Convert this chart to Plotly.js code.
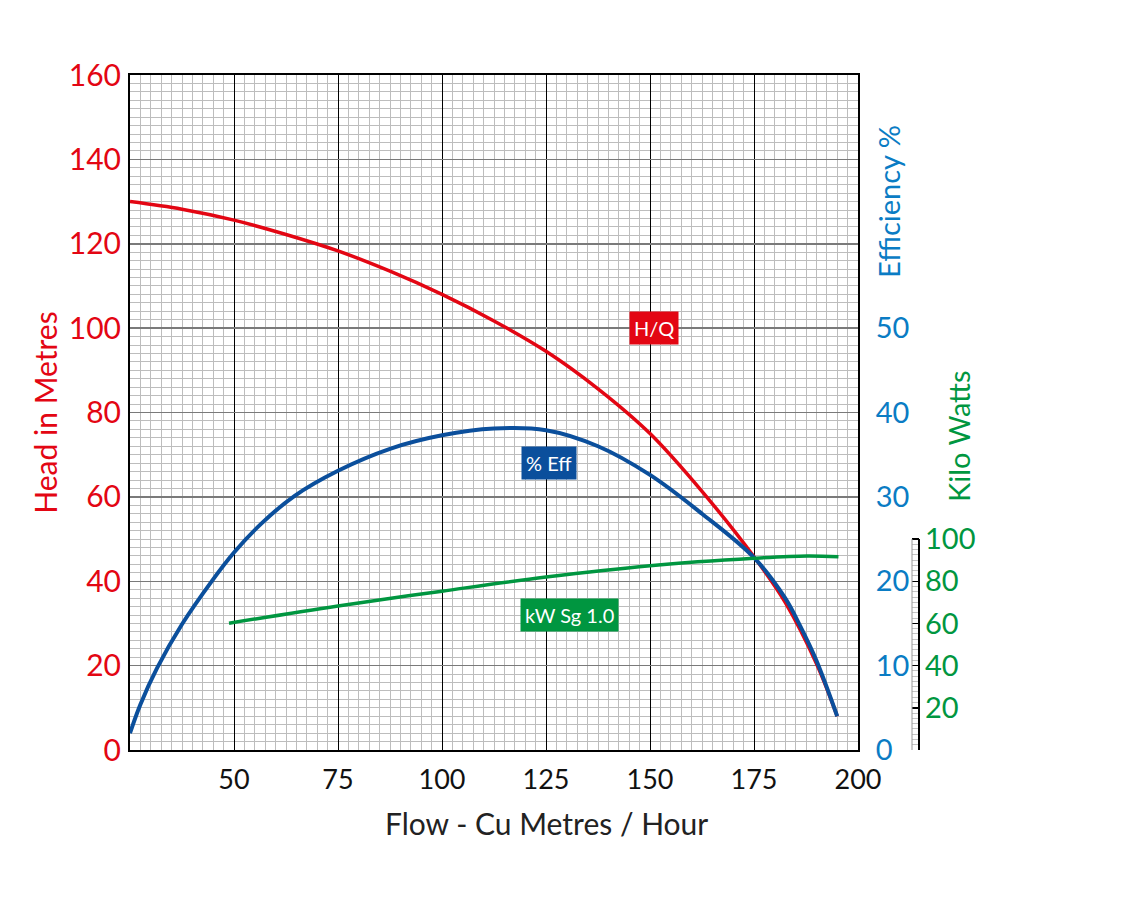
<!DOCTYPE html>
<html>
<head>
<meta charset="utf-8">
<script src="https://cdn.plot.ly/plotly-3.0.1.min.js"></script>
<style>
  html, body {margin:0; padding:0; background:#fff;}
  #chart {width:1136px; height:904px;}
</style>
</head>
<body>
<div id="chart"></div>
<script>
// flow in cu metres / hour
const headFlow = [25, 37.5, 50, 62.5, 75, 87.5, 100, 112.5, 125, 137.5, 150, 162.5, 175, 182.5, 190, 195];
const headVals = [130, 128.2, 125.6, 122.2, 118.3, 113.5, 108, 101.7, 94.5, 85.6, 75.0, 61.3, 45.8, 35, 20.5, 8];

const effFlow = [25, 27.5, 31.5, 37.5, 44.5, 50, 56.5, 64.5, 75, 87.5, 100, 112.5, 125, 137.5, 150, 162.5, 175, 182.5, 186, 190, 195];
const effVals = [2.0, 5.4, 9.7, 14.9, 19.9, 23.4, 26.8, 30.1, 33.1, 35.7, 37.3, 38.1, 37.9, 36.0, 32.6, 28.0, 22.8, 18.0, 14.8, 10.6, 4.0];

const kwFlow = [48.8, 75, 100, 125, 150, 175, 187.8, 195.3];
const kwVals = [60.1, 68.3, 75.3, 82.0, 87.4, 90.9, 92.0, 91.6];

const flowTicks = [50, 75, 100, 125, 150, 175, 200];
const headTicks = [0, 20, 40, 60, 80, 100, 120, 140, 160];
const effTicks = [0, 10, 20, 30, 40, 50];
const kwTicks = [0, 20, 40, 60, 80, 100];

const RED = "#e30613", BLUE = "#0b4f9c", LBLUE = "#0a7cc4", GREEN = "#009640";
const FONT = "Lato, 'Open Sans', sans-serif";

const plotW = 728, paperW = 906;   // plot area vs paper width (px)
const xEnd = plotW / paperW;

const kwMinor = [];
for (let v = 0; v <= 100; v += 2.5) kwMinor.push(v);

const traces = [
  {x: headFlow, y: headVals, yaxis: "y", mode: "lines", name: "H/Q",
   line: {color: RED, width: 3.5, shape: "spline", smoothing: 1}},
  {x: effFlow, y: effVals, yaxis: "y2", mode: "lines", name: "% Eff",
   line: {color: BLUE, width: 4, shape: "spline", smoothing: 1}},
  {x: kwFlow, y: kwVals, yaxis: "y3", mode: "lines", name: "kW Sg 1.0",
   line: {color: GREEN, width: 3.5, shape: "spline", smoothing: 1}}
];

function tag(text, x, y, yref, bg) {
  return {text: text, x: x, y: y, xref: "x", yref: yref, showarrow: false,
          font: {family: FONT, size: 20, color: "#fff"},
          bgcolor: bg, borderpad: 4};
}

const layout = {
  width: 1136, height: 904,
  margin: {l: 130, r: 1136 - 130 - paperW, t: 75, b: 154},
  paper_bgcolor: "#fff", plot_bgcolor: "#fff",
  showlegend: false,
  font: {family: FONT},
  xaxis: {
    domain: [0, xEnd], range: [25, 200],
    tickmode: "array", tickvals: flowTicks,
    ticks: "outside", ticklen: 5, tickcolor: "rgba(0,0,0,0)",
    tickfont: {size: 27, color: "#111"},
    showgrid: true, gridcolor: "#000", gridwidth: 1,
    minor: {dtick: 2.5, showgrid: true, gridcolor: "#bdbdbd", gridwidth: 1},
    showline: true, linecolor: "#000", linewidth: 2, mirror: true,
    zeroline: false
  },
  yaxis: {
    range: [0, 160], tickmode: "array", tickvals: headTicks,
    ticks: "outside", ticklen: 1, tickcolor: "rgba(0,0,0,0)",
    tickfont: {size: 30, color: RED},
    title: {text: "Head in Metres", font: {size: 30, color: RED}, standoff: 2},
    showgrid: true, gridcolor: "#7a7a7a", gridwidth: 1.5,
    minor: {dtick: 2, showgrid: true, gridcolor: "#bdbdbd", gridwidth: 1},
    showline: true, linecolor: "#000", linewidth: 2, mirror: true,
    zeroline: false
  },
  yaxis2: {
    overlaying: "y", side: "right", anchor: "x",
    range: [0, 80], tickmode: "array", tickvals: effTicks,
    ticks: "outside", ticklen: 11, tickcolor: "rgba(0,0,0,0)",
    tickfont: {size: 29, color: LBLUE},
    showgrid: false, zeroline: false, showline: false
  },
  yaxis3: {
    overlaying: "y", side: "right", anchor: "free",
    position: (919 - 130) / paperW,
    range: [0, 320], tickmode: "array", tickvals: kwTicks,
    ticktext: kwTicks.map(v => v === 0 ? "" : String(v)),
    ticks: "inside", ticklen: 7, tickwidth: 1.5, tickcolor: "#000",
    ticklabelstandoff: 5,
    minor: {tickmode: "array", tickvals: kwMinor, ticks: "inside", ticklen: 7, tickcolor: "#c4c4c4", tickwidth: 1},
    tickfont: {size: 29, color: GREEN},
    showgrid: false, zeroline: false, showline: false
  },
  yaxis4: {
    overlaying: "y", anchor: "x", range: [0, 160],
    tickmode: "array", tickvals: [40, 60, 80, 100],
    showticklabels: false, ticks: "",
    showgrid: true, gridcolor: "#000", gridwidth: 1.2,
    zeroline: false, showline: false
  },
  shapes: [
    {type: "line", xref: "paper", yref: "y3", x0: (912 - 130) / paperW, x1: (912 - 130) / paperW,
     y0: 0, y1: 100, line: {color: "#9a9a9a", width: 1}},
    {type: "line", xref: "paper", yref: "y3", x0: (919 - 130) / paperW, x1: (919 - 130) / paperW,
     y0: 0, y1: 100, line: {color: "#000", width: 2}}
  ],
  annotations: [
    tag("H/Q", 151, 100, "y", RED),
    tag("% Eff", 125.6, 34, "y2", BLUE),
    tag("kW Sg 1.0", 130.7, 64, "y3", GREEN),
    {text: "Flow - Cu Metres / Hour", xref: "paper", yref: "paper",
     x: (546 - 130) / paperW, y: (750 - 823) / 675, showarrow: false,
     xanchor: "center", yanchor: "middle",
     font: {family: FONT, size: 30, color: "#222"}},
    {text: "Efficiency %", xref: "paper", yref: "paper", textangle: -90,
     x: (888 - 130) / paperW, y: (750 - 202) / 675, showarrow: false,
     xanchor: "center", yanchor: "middle",
     font: {family: FONT, size: 29, color: LBLUE}},
    {text: "Kilo Watts", xref: "paper", yref: "paper", textangle: -90,
     x: (958 - 130) / paperW, y: (750 - 437) / 675, showarrow: false,
     xanchor: "center", yanchor: "middle",
     font: {family: FONT, size: 29, color: GREEN}}
  ]
};

Plotly.newPlot("chart", traces, layout, {staticPlot: true, displayModeBar: false});
</script>
</body>
</html>
